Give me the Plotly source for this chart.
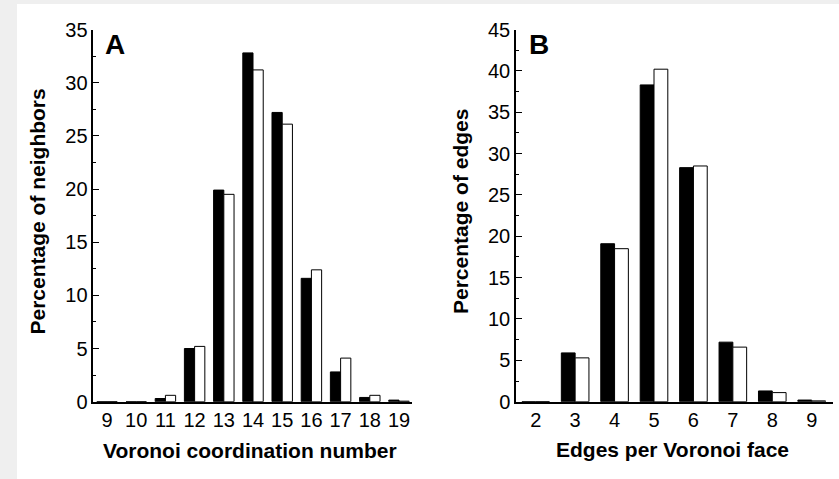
import plotly.graph_objects as go

# Panel A data
coord_numbers = [9, 10, 11, 12, 13, 14, 15, 16, 17, 18, 19]
coord_black = [0, 0, 0.3, 5.0, 19.9, 32.8, 27.2, 11.6, 2.8, 0.4, 0.15]
coord_white = [0, 0, 0.6, 5.2, 19.5, 31.2, 26.1, 12.4, 4.1, 0.6, 0.05]

# Panel B data
edges_per_face = [2, 3, 4, 5, 6, 7, 8, 9]
edges_black = [0, 5.9, 19.1, 38.3, 28.3, 7.2, 1.3, 0.2]
edges_white = [0, 5.3, 18.5, 40.2, 28.5, 6.6, 1.1, 0.1]

W, H = 839, 479
FONT = "Arial, Liberation Sans, Helvetica, sans-serif"

def px(x):
    return x / W

def py(y):
    return (H - y) / H

fig = go.Figure()

bar_line = dict(color="black", width=1)
fig.add_trace(go.Bar(x=coord_numbers, y=coord_black, marker=dict(color="black", line=bar_line),
                     xaxis="x", yaxis="y", showlegend=False))
fig.add_trace(go.Bar(x=coord_numbers, y=coord_white, marker=dict(color="white", line=bar_line),
                     xaxis="x", yaxis="y", showlegend=False))
fig.add_trace(go.Bar(x=edges_per_face, y=edges_black, marker=dict(color="black", line=bar_line),
                     xaxis="x2", yaxis="y2", showlegend=False))
fig.add_trace(go.Bar(x=edges_per_face, y=edges_white, marker=dict(color="white", line=bar_line),
                     xaxis="x2", yaxis="y2", showlegend=False))

ydom = [py(401.7), py(29.5)]
tickfont = dict(family=FONT, size=20, color="black")

def xaxis(domain, rng, vals, anchor):
    return dict(domain=domain, range=rng, tickvals=vals, ticktext=[str(v) for v in vals],
                showline=True, linecolor="black", linewidth=1.5, ticks="", showgrid=False,
                zeroline=False, tickfont=tickfont, anchor=anchor, fixedrange=True,
                automargin=False)

def yaxis(rng, anchor):
    return dict(domain=ydom, range=rng, dtick=5, tick0=0, showline=True, linecolor="black",
                linewidth=1.5, ticks="inside", ticklen=6, tickwidth=1, tickcolor="black",
                minor=dict(dtick=2.5, tick0=0, ticks="inside", ticklen=3, tickwidth=1, tickcolor="black"),
                showgrid=False, zeroline=False, tickfont=tickfont, anchor=anchor, fixedrange=True,
                automargin=False)

fig.update_layout(
    width=W, height=H,
    autosize=False,
    margin=dict(l=0, r=0, t=0, b=0, pad=0),
    paper_bgcolor="#efefef",
    plot_bgcolor="rgba(0,0,0,0)",
    barmode="group",
    bargap=0.3,
    bargroupgap=0,
    xaxis=xaxis([px(93.3), px(412)], [8.53, 19.445], coord_numbers, "y"),
    yaxis=yaxis([0, 35], "x"),
    xaxis2=xaxis([px(516), px(833)], [1.5, 9.54], edges_per_face, "y2"),
    yaxis2=yaxis([0, 45], "x2"),
    shapes=[dict(type="rect", xref="paper", yref="paper", x0=px(17), x1=1, y0=0, y1=py(4),
                 fillcolor="white", line=dict(width=0), layer="below")],
)

title_font = dict(family=FONT, size=21, color="black")
annotations = [
    dict(text="<b>Voronoi coordination number</b>", x=px(249.5), y=py(450), font=title_font),
    dict(text="<b>Edges per Voronoi face</b>", x=px(672), y=py(449), font=title_font),
    dict(text="<b>Percentage of neighbors</b>", x=px(36.5), y=py(212), font=title_font, textangle=-90),
    dict(text="<b>Percentage of edges</b>", x=px(460), y=py(212), font=title_font, textangle=-90),
    dict(text="<b>A</b>", x=px(114.5), y=py(44), font=dict(family=FONT, size=28, color="black")),
    dict(text="<b>B</b>", x=px(538.5), y=py(44), font=dict(family=FONT, size=28, color="black")),
]
for a in annotations:
    a.update(xref="paper", yref="paper", showarrow=False, xanchor="center", yanchor="middle")
fig.update_layout(annotations=annotations)

fig.write_html("out.html",
               post_script="document.body.style.margin='0';document.body.style.overflow='hidden';")
